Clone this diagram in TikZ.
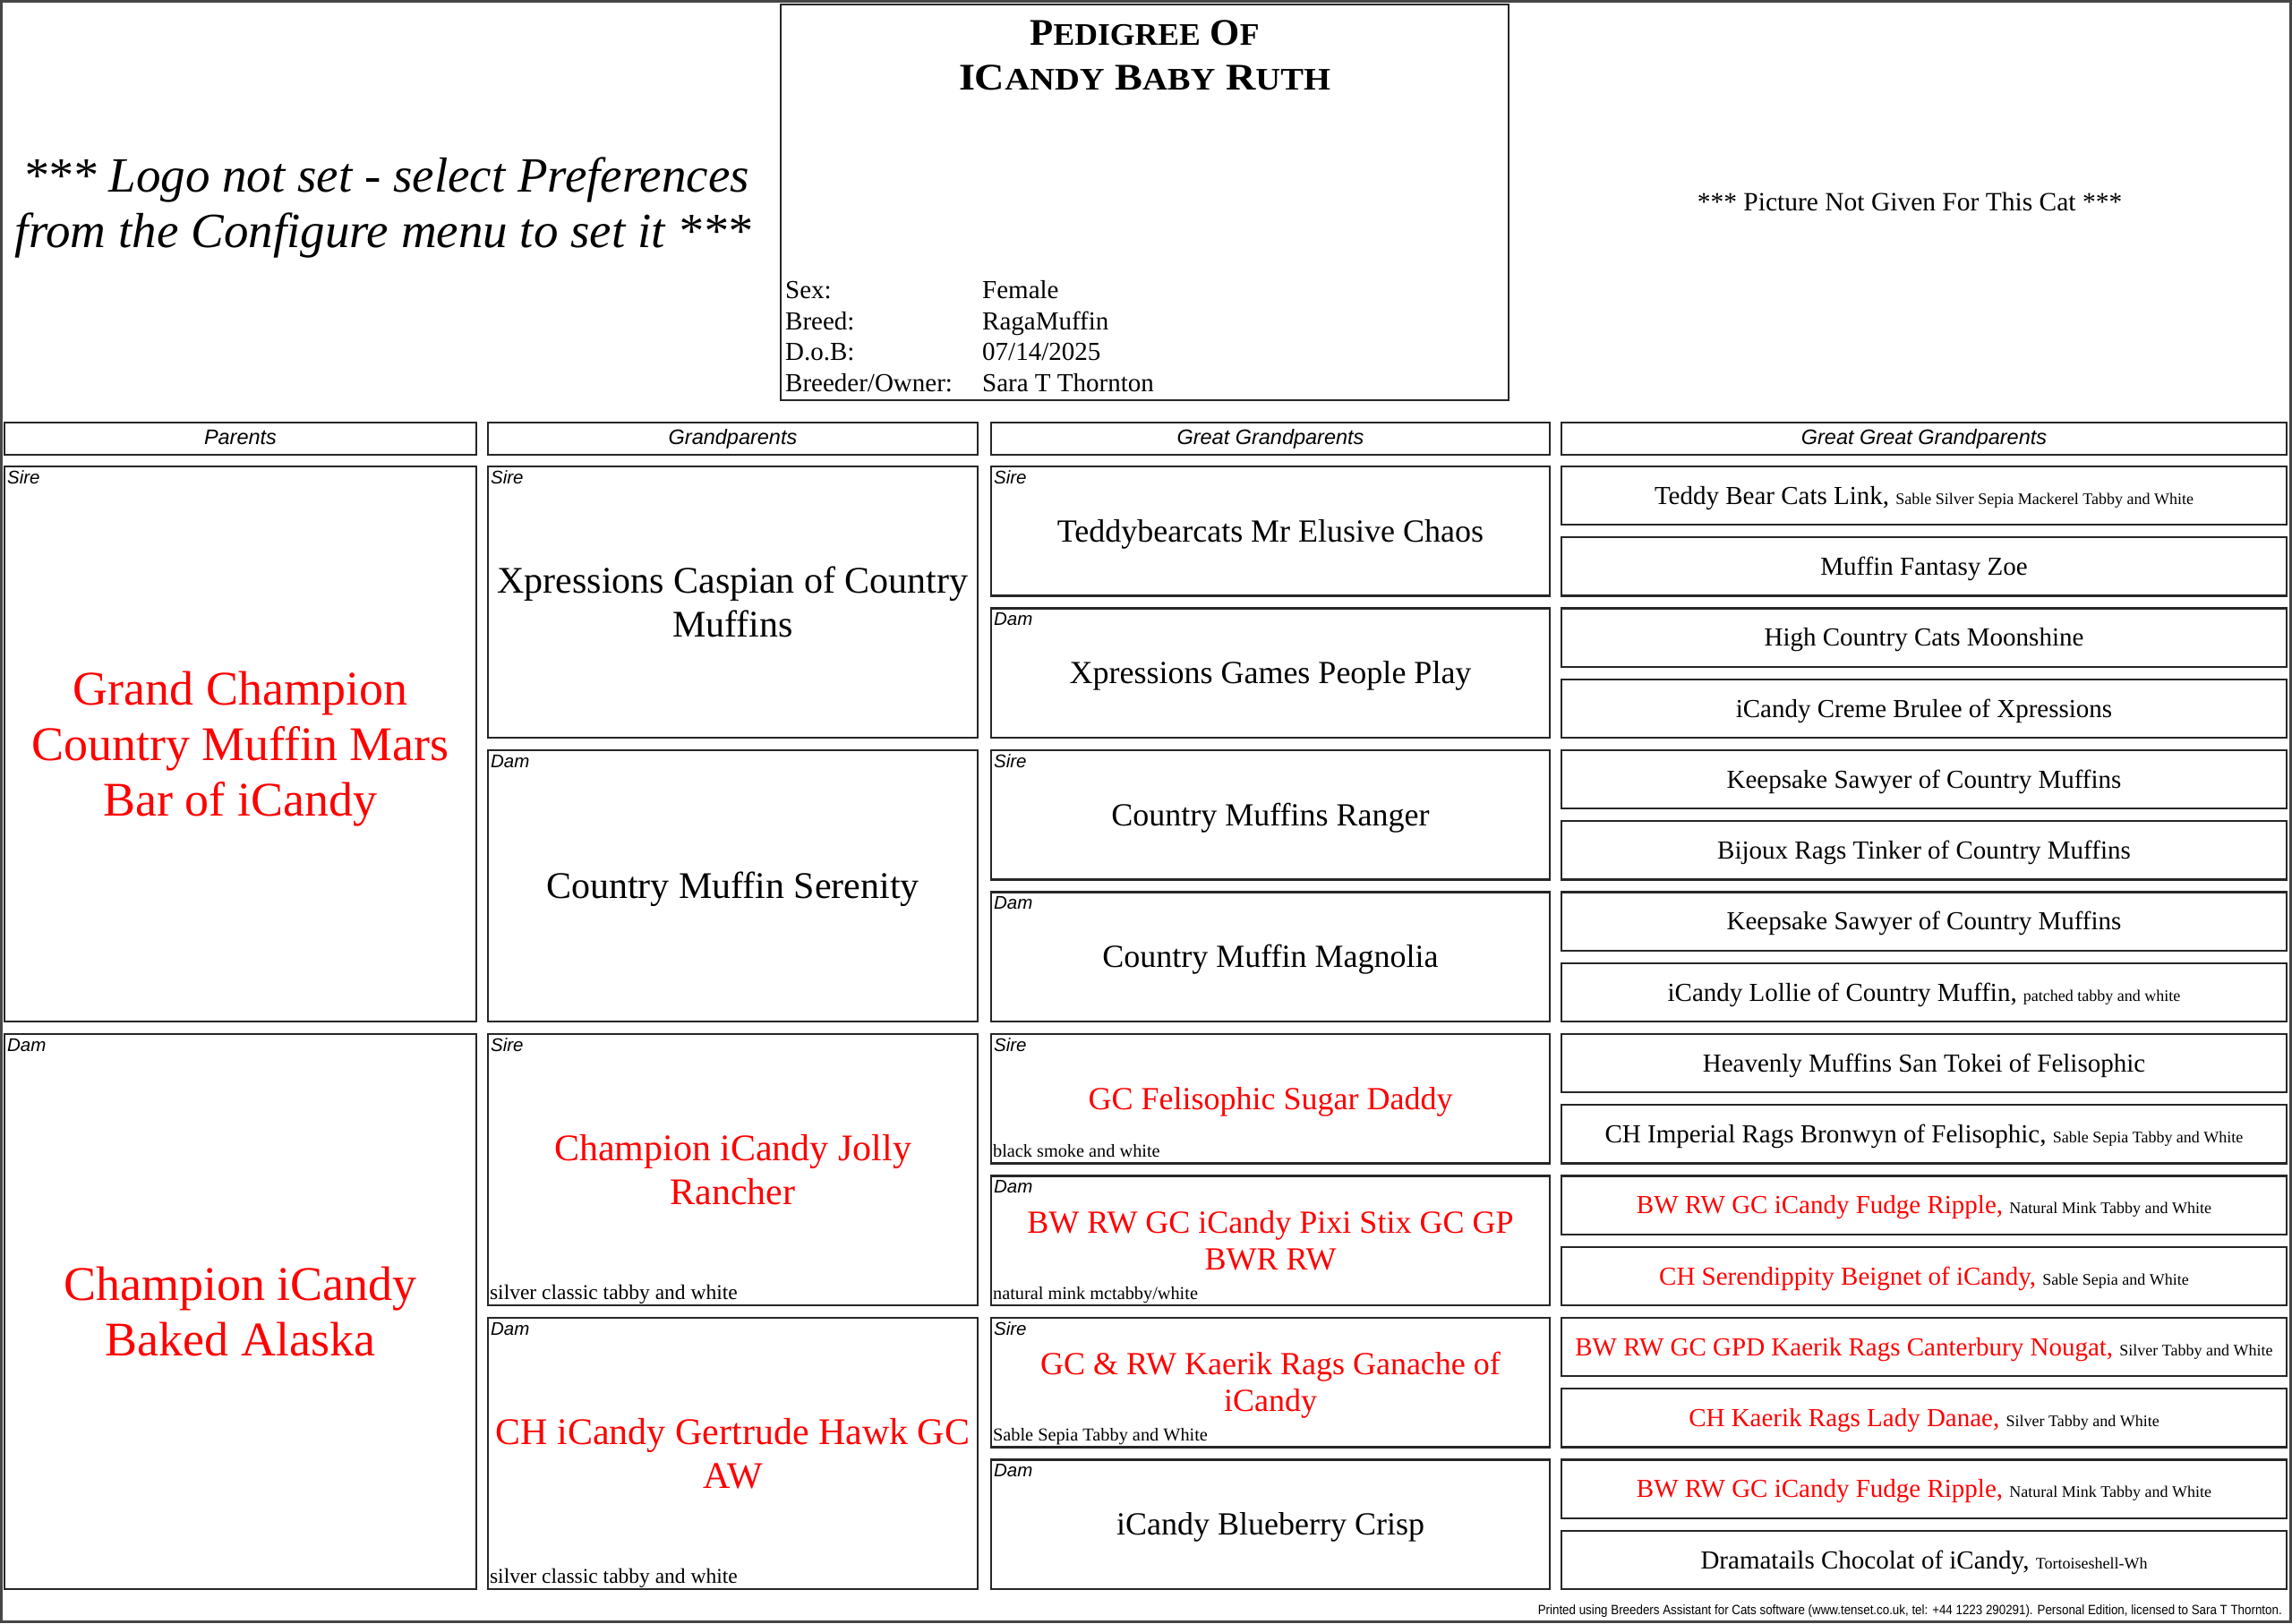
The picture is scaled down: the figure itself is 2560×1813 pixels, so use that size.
\documentclass[tikz,border=0pt]{standalone}
\usepackage{fontspec}
\usepackage{graphicx}
\setmainfont{Liberation Serif}
\setsansfont{Liberation Sans}
\usetikzlibrary{calc}
\definecolor{pedred}{RGB}{255,0,0}
\definecolor{framegray}{RGB}{70,70,70}
\newcommand\pedsc[1]{{\fontsize{35}{35}\selectfont #1}}
\newcommand\pedsmall[1]{{\fontsize{18}{20}\selectfont #1}}
\tikzset{
  cell/.style={draw=black!85, line width=2.2pt, inner sep=2pt, align=center},
  pbox/.style={cell, minimum width=527pt, minimum height=620pt, text height=48.1pt, text depth=11.7pt, font=\fontsize{54}{62}\selectfont},
  gpbox/.style={cell, minimum width=547pt, minimum height=303pt, text height=37.4pt, text depth=9.1pt, font=\fontsize{42}{49}\selectfont},
  ggbox/.style={cell, minimum width=624pt, minimum height=144.5pt, text height=32.1pt, text depth=7.8pt, font=\fontsize{36}{41}\selectfont},
  gggbox/.style={cell, minimum width=810pt, minimum height=65.25pt, text height=25.8pt, text depth=6.3pt, font=\fontsize{29}{34}\selectfont},
  hdrcell/.style={cell, minimum height=36pt, text height=17pt, text depth=5pt, font=\sffamily\itshape\fontsize{23.5}{26}\selectfont},
  lab/.style={anchor=base west, inner sep=0pt, font=\sffamily\itshape\fontsize{20.5}{24}\selectfont},
  ctext/.style={anchor=base west, inner sep=0pt, font=\fontsize{23.5}{26}\selectfont},
  cgtext/.style={anchor=base west, inner sep=0pt, font=\fontsize{20.3}{24}\selectfont},
  info/.style={anchor=base west, inner sep=0pt, font=\fontsize{29}{34}\selectfont},
  red/.style={text=pedred}
}
\begin{document}
\begin{tikzpicture}[x=1pt,y=-1pt]
\useasboundingbox (0,0) rectangle (2560,1813);
\fill[white] (0,0) rectangle (2560,1813);
\draw[framegray, line width=2.5pt] (1.5,1.5) rectangle (2558.5,1811.5);

% header box
\node[draw=black!85, line width=2.2pt, minimum width=813pt, minimum height=442pt, inner sep=0pt] (hdrbox) at (1278.5,226) {};
\node[anchor=base, inner sep=0pt, font=\bfseries\fontsize{42}{42}\selectfont] (title1) at (1278.5,50)
  {\resizebox{256pt}{\height}{P\pedsc{EDIGREE} O\pedsc{F}}};
\node[anchor=base, inner sep=0pt, font=\bfseries\fontsize{42}{42}\selectfont] (title2) at (1278.5,100)
  {\resizebox{415pt}{\height}{IC\pedsc{ANDY} B\pedsc{ABY} R\pedsc{UTH}}};
\node[info] (k1) at (877,333.5) {Sex:};
\node[info] (k2) at (877,368) {Breed:};
\node[info] (k3) at (877,402.5) {D.o.B:};
\node[info] (k4) at (877,437) {Breeder/Owner:};
\node[info] (v1) at (1097,333.5) {Female};
\node[info] (v2) at (1097,368) {RagaMuffin};
\node[info] (v3) at (1097,402.5) {07/14/2025};
\node[info] (v4) at (1097,437) {Sara T Thornton};

% logo and picture notes
\node[anchor=base, inner sep=0pt, font=\itshape\fontsize{55}{62}\selectfont] (logo1) at (431,214) {*** Logo not set - select Preferences};
\node[anchor=base, inner sep=0pt, font=\itshape\fontsize{55}{62}\selectfont] (logo2) at (428,276) {from the Configure menu to set it ***};
\node[anchor=base, inner sep=0pt, font=\fontsize{29.5}{34}\selectfont] (pic) at (2133,235.5) {*** Picture Not Given For This Cat ***};

% column headers
\node[hdrcell, minimum width=527pt] (hP) at (268.5,490) {Parents};
\node[hdrcell, minimum width=547pt] (hGP) at (818.5,490) {Grandparents};
\node[hdrcell, minimum width=624pt] (hGG) at (1419,490) {Great Grandparents};
\node[hdrcell, minimum width=810pt] (hGGG) at (2149,490) {Great Great Grandparents};

% parents
\node[pbox, red, text height=172.1pt] (P1) at (268.5,831) {Grand Champion\\Country Muffin Mars\\Bar of iCandy};
\node[pbox, red, text height=110.1pt] (P2) at (268.5,1465) {Champion iCandy\\Baked Alaska};
\node[lab] (lP1) at ($(P1.north west)+(4,20.5)$) {Sire};
\node[lab] (lP2) at ($(P2.north west)+(4,20.5)$) {Dam};

% grandparents
\node[gpbox, text height=86.4pt] (GP1) at (818.5,672.5) {Xpressions Caspian of Country\\Muffins};
\node[gpbox] (GP2) at (818.5,989.5) {Country Muffin Serenity};
\node[gpbox, red, text height=86.4pt] (GP3) at (818.5,1306.5) {Champion iCandy Jolly\\Rancher};
\node[gpbox, red, text height=86.4pt] (GP4) at (818.5,1623.5) {CH iCandy Gertrude Hawk GC\\AW};
\node[lab] (lGP1) at ($(GP1.north west)+(4,20.5)$) {Sire};
\node[lab] (lGP2) at ($(GP2.north west)+(4,20.5)$) {Dam};
\node[lab] (lGP3) at ($(GP3.north west)+(4,20.5)$) {Sire};
\node[lab] (lGP4) at ($(GP4.north west)+(4,20.5)$) {Dam};
\node[ctext] (cGP3) at ($(GP3.south west)+(3,-8)$) {silver classic tabby and white};
\node[ctext] (cGP4) at ($(GP4.south west)+(3,-8)$) {silver classic tabby and white};

% great grandparents
\node[ggbox] (GG1) at (1419,593.25) {Teddybearcats Mr Elusive Chaos};
\node[ggbox] (GG2) at (1419,751.75) {Xpressions Games People Play};
\node[ggbox] (GG3) at (1419,910.25) {Country Muffins Ranger};
\node[ggbox] (GG4) at (1419,1068.75) {Country Muffin Magnolia};
\node[ggbox, red] (GG5) at (1419,1227.25) {GC Felisophic Sugar Daddy};
\node[ggbox, red, text height=73.1pt] (GG6) at (1419,1385.75) {BW RW GC iCandy Pixi Stix GC GP\\BWR RW};
\node[ggbox, red, text height=73.1pt] (GG7) at (1419,1544.25) {GC \& RW Kaerik Rags Ganache of\\iCandy};
\node[ggbox] (GG8) at (1419,1702.75) {iCandy Blueberry Crisp};
\node[lab] (lGG1) at ($(GG1.north west)+(4,20.5)$) {Sire};
\node[lab] (lGG2) at ($(GG2.north west)+(4,20.5)$) {Dam};
\node[lab] (lGG3) at ($(GG3.north west)+(4,20.5)$) {Sire};
\node[lab] (lGG4) at ($(GG4.north west)+(4,20.5)$) {Dam};
\node[lab] (lGG5) at ($(GG5.north west)+(4,20.5)$) {Sire};
\node[lab] (lGG6) at ($(GG6.north west)+(4,20.5)$) {Dam};
\node[lab] (lGG7) at ($(GG7.north west)+(4,20.5)$) {Sire};
\node[lab] (lGG8) at ($(GG8.north west)+(4,20.5)$) {Dam};
\node[cgtext] (cGG5) at ($(GG5.south west)+(3,-8)$) {black smoke and white};
\node[cgtext] (cGG6) at ($(GG6.south west)+(3,-8)$) {natural mink mctabby/white};
\node[cgtext] (cGG7) at ($(GG7.south west)+(3,-8)$) {Sable Sepia Tabby and White};

% great great grandparents
\node[gggbox] (G1) at (2149,553.625) {Teddy Bear Cats Link, \pedsmall{Sable Silver Sepia Mackerel Tabby and White}};
\node[gggbox] (G2) at (2149,632.875) {Muffin Fantasy Zoe};
\node[gggbox] (G3) at (2149,712.125) {High Country Cats Moonshine};
\node[gggbox] (G4) at (2149,791.375) {iCandy Creme Brulee of Xpressions};
\node[gggbox] (G5) at (2149,870.625) {Keepsake Sawyer of Country Muffins};
\node[gggbox] (G6) at (2149,949.875) {Bijoux Rags Tinker of Country Muffins};
\node[gggbox] (G7) at (2149,1029.125) {Keepsake Sawyer of Country Muffins};
\node[gggbox] (G8) at (2149,1108.375) {iCandy Lollie of Country Muffin, \pedsmall{patched tabby and white}};
\node[gggbox] (G9) at (2149,1187.625) {Heavenly Muffins San Tokei of Felisophic};
\node[gggbox] (G10) at (2149,1266.875) {CH Imperial Rags Bronwyn of Felisophic, \pedsmall{Sable Sepia Tabby and White}};
\node[gggbox] (G11) at (2149,1346.125) {\textcolor{pedred}{BW RW GC iCandy Fudge Ripple,} \pedsmall{Natural Mink Tabby and White}};
\node[gggbox] (G12) at (2149,1425.375) {\textcolor{pedred}{CH Serendippity Beignet of iCandy,} \pedsmall{Sable Sepia and White}};
\node[gggbox] (G13) at (2149,1504.625) {\textcolor{pedred}{BW RW GC GPD Kaerik Rags Canterbury Nougat,} \pedsmall{Silver Tabby and White}};
\node[gggbox] (G14) at (2149,1583.875) {\textcolor{pedred}{CH Kaerik Rags Lady Danae,} \pedsmall{Silver Tabby and White}};
\node[gggbox] (G15) at (2149,1663.125) {\textcolor{pedred}{BW RW GC iCandy Fudge Ripple,} \pedsmall{Natural Mink Tabby and White}};
\node[gggbox] (G16) at (2149,1742.375) {Dramatails Chocolat of iCandy, \pedsmall{Tortoiseshell-Wh}};

% footer
\node[anchor=base east, inner sep=0pt, font=\sffamily\fontsize{15}{15}\selectfont] (foot) at (2549,1803)
  {\resizebox{831pt}{\height}{Printed using Breeders Assistant for Cats software (www.tenset.co.uk, tel: +44 1223 290291). Personal Edition, licensed to Sara T Thornton.}};
\end{tikzpicture}
\end{document}
